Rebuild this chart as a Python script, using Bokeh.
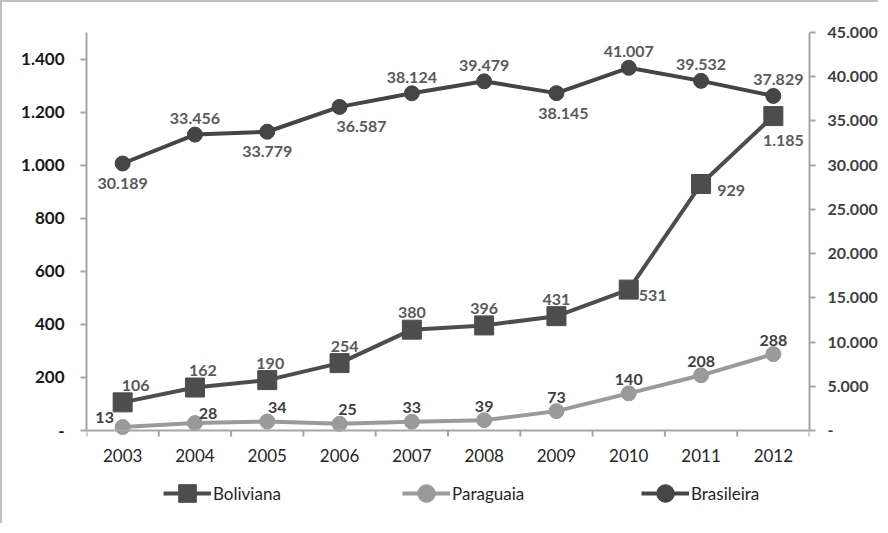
from bokeh.plotting import figure
from bokeh.models import (Range1d, LinearAxis, FixedTicker, ColumnDataSource,
                          Legend, LegendItem, LabelSet, Span)
from bokeh.core.properties import value
from bokeh.embed import file_html
from bokeh.resources import INLINE

years = [2003, 2004, 2005, 2006, 2007, 2008, 2009, 2010, 2011, 2012]
boliviana = [106, 162, 190, 254, 380, 396, 431, 531, 929, 1185]
paraguaia = [13, 28, 34, 25, 33, 39, 73, 140, 208, 288]
brasileira = [30189, 33456, 33779, 36587, 38124, 39479, 38145, 41007, 39532, 37829]

left_ticks = [0, 200, 400, 600, 800, 1000, 1200, 1400]
right_ticks = [0, 5000, 10000, 15000, 20000, 25000, 30000, 35000, 40000, 45000]
LEFT_MAX = 1500
RIGHT_MAX = 45000


def fmt(v):
    return "{:,}".format(v).replace(",", ".")


# label offsets (screen px) for data labels
bol_dx = [13, 8, 3, 5, 0, 0, 0, 24, 30, 10]
bol_dy = [17, 17, 17, 17, 17, 17, 17, -6, -6, -24]
par_dx = [-18, 13, 10, 8, 0, 0, 0, 0, 0, 0]
par_dy = [10, 10, 14, 14, 14, 14, 14, 14, 14, 14]
bra_dx = [0, 0, 0, 22, 0, 0, 7, 0, 0, 5]
bra_dy = [-20, 16, -20, -20, 16, 16, -20, 16, 16, 16]

FONT = "Lato"
DARK = "#454545"
BOL = "#4d4d4d"
PAR = "#9a9a9a"
AXIS = "#a6a6a6"

W, H = 878, 523
TOP, LEFTB, RIGHTB = 30, 84, 68
PLOT_H = 398          # px from value 0 to axis maximum
BELOW = H - TOP - PLOT_H  # px below the zero line kept inside the frame
left_min = -BELOW * LEFT_MAX / PLOT_H
right_min = -BELOW * RIGHT_MAX / PLOT_H

p = figure(width=W, height=H, output_backend="svg", toolbar_location=None,
           x_range=Range1d(2002.5, 2012.5), y_range=Range1d(left_min, LEFT_MAX),
           x_axis_location=None,
           min_border_left=LEFTB, min_border_right=RIGHTB, min_border_top=TOP,
           min_border_bottom=0)
p.extra_y_ranges = {"right": Range1d(right_min, RIGHT_MAX)}
p.styles = {"border-left": "2px solid #c0c0c0", "border-top": "2px solid #c0c0c0"}
p.outline_line_color = None
p.grid.visible = False
p.background_fill_color = "white"
p.border_fill_color = "white"

src = ColumnDataSource(dict(
    x=years, bol=boliviana, par=paraguaia, bra=brasileira,
    bol_t=[fmt(v) for v in boliviana], par_t=[fmt(v) for v in paraguaia],
    bra_t=[fmt(v) for v in brasileira], yr=[str(y) for y in years],
    zero=[0] * len(years),
    bol_dx=bol_dx, bol_dy=bol_dy, par_dx=par_dx, par_dy=par_dy,
    bra_dx=bra_dx, bra_dy=bra_dy))

# category axis along value zero (ticks between categories)
p.add_layout(Span(location=0, dimension="width", line_color=AXIS, line_width=2))
bounds = [y - 0.5 for y in years] + [years[-1] + 0.5]
tick_len = 6 * LEFT_MAX / PLOT_H
p.segment(x0=bounds, y0=[0] * len(bounds), x1=bounds, y1=[-tick_len] * len(bounds),
          line_color=AXIS, line_width=2)
p.add_layout(LabelSet(x="x", y="zero", text="yr", source=src, y_offset=-25,
                      text_font=value(FONT), text_font_size="17px",
                      text_color="#262626", text_align="center",
                      text_baseline="middle"))

l_bra = p.line("x", "bra", source=src, y_range_name="right", line_color=DARK, line_width=4)
m_bra = p.scatter("x", "bra", source=src, y_range_name="right", marker="circle",
                  size=15, fill_color=DARK, line_color=DARK)
l_bol = p.line("x", "bol", source=src, line_color=BOL, line_width=4)
m_bol = p.scatter("x", "bol", source=src, marker="square", size=19,
                  fill_color=BOL, line_color=BOL)
l_par = p.line("x", "par", source=src, line_color=PAR, line_width=4)
m_par = p.scatter("x", "par", source=src, marker="circle", size=15,
                  fill_color=PAR, line_color=PAR)

common = dict(source=src, text_font=value(FONT), text_font_size="16px",
              text_font_style="bold", text_align="center", text_baseline="middle")
p.add_layout(LabelSet(x="x", y="bol", text="bol_t", x_offset="bol_dx", y_offset="bol_dy",
                      text_color="#5a5a5a", **common))
p.add_layout(LabelSet(x="x", y="par", text="par_t", x_offset="par_dx", y_offset="par_dy",
                      text_color="#404040", **common))
p.add_layout(LabelSet(x="x", y="bra", text="bra_t", x_offset="bra_dx", y_offset="bra_dy",
                      y_range_name="right", text_color="#5a5a5a", **common))

# left axis
ya = p.yaxis[0]
ya.bounds = (0, LEFT_MAX)
ya.ticker = FixedTicker(ticks=left_ticks, minor_ticks=[])
ya.major_label_overrides = {v: ("-" if v == 0 else fmt(v)) for v in left_ticks}
ya.axis_line_color = AXIS
ya.axis_line_width = 2
ya.major_tick_line_color = AXIS
ya.major_tick_line_width = 2
ya.major_tick_out = 6
ya.major_tick_in = 0
ya.minor_tick_line_color = None
ya.major_label_text_font = FONT
ya.major_label_text_font_size = "17px"
ya.major_label_text_font_style = "bold"
ya.major_label_text_color = "#1a1a1a"
ya.major_label_standoff = 16

# right axis
ra = LinearAxis(y_range_name="right", bounds=(0, RIGHT_MAX),
                ticker=FixedTicker(ticks=right_ticks, minor_ticks=[]))
ra.major_label_overrides = {v: ("-" if v == 0 else fmt(v)) for v in right_ticks}
ra.axis_line_color = AXIS
ra.axis_line_width = 2
ra.major_tick_line_color = AXIS
ra.major_tick_line_width = 2
ra.major_tick_out = 6
ra.major_tick_in = 0
ra.minor_tick_line_color = None
ra.major_label_text_font = FONT
ra.major_label_text_font_size = "16px"
ra.major_label_text_font_style = "bold"
ra.major_label_text_color = "#404040"
ra.major_label_standoff = 12
p.add_layout(ra, "right")

legend = Legend(items=[
    LegendItem(label="Boliviana", renderers=[l_bol, m_bol]),
    LegendItem(label="Paraguaia", renderers=[l_par, m_par]),
    LegendItem(label="Brasileira", renderers=[l_bra, m_bra]),
], orientation="horizontal", location=(77, 10), glyph_width=48, glyph_height=44,
    label_standoff=2, label_width=183, spacing=6, padding=0, margin=0,
    border_line_color=None, background_fill_alpha=0,
    label_text_font=FONT, label_text_font_size="17px", label_text_color="#262626")
p.add_layout(legend, "center")

open("out.html", "w").write(file_html(p, INLINE))
